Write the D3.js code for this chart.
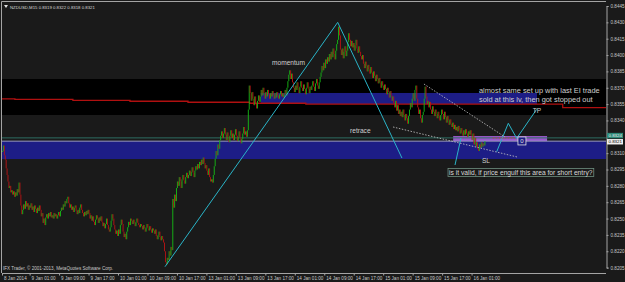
<!DOCTYPE html>
<html>
<head>
<meta charset="utf-8">
<script src="https://cdn.jsdelivr.net/npm/d3@7/dist/d3.min.js"></script>
<style>
  body { margin: 0; background: #1a1a1a; }
  svg { display: block; font-family: "Liberation Sans", Arial, sans-serif; }
</style>
</head>
<body>
<svg id="chart" width="625" height="282"></svg>
<script>
// NZDUSD M15, closes in pips above BASE (price = BASE + p / 10000)
var BASE = 0.8200;
var closes = [
  112, 117, 108,
  104, 96, 90, 84, 78, 80, 74,
  76, 72, 75, 70, 74, 71, 77, 74,
  83, 72,
  62, 54, 58,
  63, 59, 66, 61, 64, 58, 62, 60,
  64, 58, 61, 56, 62, 59, 55, 60, 57, 62, 58,
  52, 55, 46, 50, 44, 51,
  54, 50, 55, 52, 56, 51, 53, 50, 55, 52, 54, 50, 53, 56, 52, 57,
  60, 58, 63, 61, 66, 64, 68, 70,
  64, 60, 63, 58, 61, 56, 60, 62, 57, 54, 58, 55, 60, 63, 58, 55, 52, 56, 53, 57, 54,
  58, 55, 50, 53, 48, 52, 47, 44, 49, 53, 50, 46, 51, 48,
  52, 47, 43, 46, 41, 45, 50, 44, 40, 38, 42,
  48, 54, 50, 44, 40, 36, 39, 34,
  40, 36, 44, 49, 45, 38, 33, 36, 31, 38, 42,
  47, 44, 50, 48, 45, 49, 46, 43, 47, 50, 46, 44, 42, 45,
  43, 40, 44, 41, 38, 42, 45, 41, 39, 43, 40, 37, 41, 39,
  36, 40, 34, 31, 35, 38, 33, 30, 34, 31, 28,
  20, 10, 8,
  14, 12, 20, 16, 24, 21, 68,
  60, 72, 66, 78, 84,
  80, 88, 84, 78, 86, 90, 85, 82, 88, 92, 87,
  90, 94, 89, 93, 97, 92, 88, 94, 98, 95, 100, 96, 102, 99,
  104, 100, 106, 101, 96, 99, 94, 90, 96, 88, 84, 86, 83, 90,
  98, 105, 112, 108, 118, 114, 122, 126,
  130, 124, 128, 133, 127, 122, 129, 125, 120, 126, 131, 124, 128, 122,
  127, 132, 126, 121, 125, 130, 124, 119, 123, 128, 134, 127, 130, 125, 131,
  150, 172, 165,
  158, 166, 160, 154, 162, 156, 151, 158, 163, 157, 162,
  168, 163, 170, 165, 160, 166, 162, 168, 164, 160, 165,
  162, 167, 163, 160, 165, 161, 166, 163, 160, 164, 167, 162, 165, 161, 164, 168, 163, 170, 176,
  182, 186, 178, 183, 175, 170,
  166, 172, 168, 175, 170, 165, 171, 176, 170, 167, 173, 169, 164, 170, 175, 169, 165, 171, 168,
  172, 176, 171, 167, 174, 178, 172, 169, 175, 180,
  184, 190, 186, 193, 188, 196, 192, 198, 194, 201, 196,
  203, 198, 206, 201, 196, 204, 210, 214,
  226, 218, 205,
  200, 206, 197, 203, 208, 199, 204, 212,
  220, 214, 208,
  213, 207, 211, 204, 209, 214, 206, 202, 208, 203, 199,
  196, 200, 192, 188, 194, 190, 185, 191, 187, 183, 189,
  184, 179, 185, 181, 176, 182, 178, 174, 179, 175, 170, 176, 172, 168,
  173, 169, 164, 170, 166, 161, 167, 163, 158, 162, 156,
  152, 158, 149, 154, 146, 150, 144,
  148, 143, 150, 145, 140, 146, 142, 137, 144,
  150, 156, 152, 160, 165, 158, 168, 172, 160, 152,
  146, 150, 142, 138, 145, 148,
  160, 171, 162, 155, 158,
  152, 157, 150, 146, 153, 148, 144, 150, 146, 142, 148, 144, 140, 145,
  150, 146, 141, 148, 143, 138, 144, 140, 136, 141, 137,
  134, 138, 132, 136, 131, 134, 130,
  135, 131, 128, 133, 129, 126, 131, 127, 132, 128, 125, 130, 127, 131,
  126, 122, 128, 118, 124, 116, 120, 114, 112,
  118, 115, 120, 116, 119, 117, 121
];

var xTickBars = [0, 30, 62, 94, 126, 158, 190, 222, 254, 286, 318, 350, 382, 414, 446, 478, 510];
var xTickLabels = ["8 Jan 2014", "9 Jan 01:00", "9 Jan 09:00", "9 Jan 17:00", "10 Jan 01:00",
  "10 Jan 09:00", "10 Jan 17:00", "13 Jan 01:00", "13 Jan 09:00", "13 Jan 17:00",
  "14 Jan 01:00", "14 Jan 09:00", "14 Jan 17:00", "15 Jan 01:00", "15 Jan 09:00",
  "15 Jan 17:00", "16 Jan 01:00"];
var yTicks = [0.8445, 0.8430, 0.8415, 0.8400, 0.8385, 0.8370, 0.8355, 0.8340,
  0.8310, 0.8295, 0.8280, 0.8265, 0.8250, 0.8235, 0.8220, 0.8205];

// stepped red indicator line: start bar / price
var redStepBars = [0, 14, 77, 139, 202, 269, 330, 609, 656];
var redStepPrices = [0.83598, 0.83594, 0.83585, 0.83576, 0.83567, 0.83558, 0.83549, 0.83518];

// rectangles: [bar0, bar1, priceTop, priceBottom]
var bandBlack = [0, 656, 0.83780, 0.83450];
var boxUpperBlue = [281, 581, 0.83652, 0.83551];
var boxLowerBlue = [0, 656, 0.83207, 0.83046];
var boxPurple = [490, 592, 0.83257, 0.83211];

// trend lines: [[bar, price], ...]
var cyanLines = [
  [[177, 0.82058], [364.6, 0.84300], [434.4, 0.83055]],
  [[492, 0.82991], [498.5, 0.83239]],
  [[537.3, 0.83113], [549.9, 0.83374], [559, 0.83236], [580.7, 0.83502]]
];
var dashedLines = [
  [[458.3, 0.83734], [546.3, 0.83248]],
  [[424.7, 0.83340], [559.4, 0.83065]]
];
var redDotted = [[533, 0.83239], [559, 0.83239]];

var notes = [
  { text: "momentum", bar: 293.3, price: 0.83909, size: 6.6 },
  { text: "retrace", bar: 378, price: 0.83285, size: 6.6 },
  { text: "almost same set up with last EI trade", bar: 518, price: 0.83650, size: 7.4 },
  { text: "sold at this lv, then got stopped out", bar: 518, price: 0.83568, size: 7.4 },
  { text: "TP", bar: 576.5, price: 0.83468, size: 6.6 },
  { text: "SL", bar: 521.3, price: 0.83010, size: 6.6 }
];
var question = { text: "is it valid, if price engulf this area for short entry?", bar: 485.5, price: 0.82904 };
var markBox = { bar: 564.7, price: 0.83212 };

var bid = 0.8321, ask = 0.8324;

var svg = d3.select("#chart");
var left = 2, right = 606, top = 2, bottom = 273;

var x = d3.scaleLinear().domain([0, 656]).range([left, right]);
var y = d3.scaleLinear().domain([0.8205, 0.8445]).range([267.6, 6]);
var px = function(p) { return BASE + p / 10000; };

var plot = svg.append("g");

function rect(b, fill) {
  plot.append("rect")
    .attr("x", x(b[0])).attr("y", y(b[2]))
    .attr("width", x(b[1]) - x(b[0]))
    .attr("height", y(b[3]) - y(b[2]))
    .attr("fill", fill);
}
rect(bandBlack, "#000000");
rect(boxLowerBlue, "#1d1d86");
rect(boxUpperBlue, "#1d1d86");
rect(boxPurple, "#9a58cc");

// red stepped line
var redPts = [];
for (var i = 0; i < redStepPrices.length; i++) {
  redPts.push([redStepBars[i], redStepPrices[i]]);
  redPts.push([redStepBars[i + 1], redStepPrices[i]]);
}
plot.append("path")
  .attr("d", d3.line().x(function(d) { return x(d[0]); }).y(function(d) { return y(d[1]); })(redPts))
  .attr("fill", "none").attr("stroke", "#b01010").attr("stroke-width", 1.3);

// ask / bid lines
plot.append("line").attr("x1", left).attr("x2", right)
  .attr("y1", y(ask)).attr("y2", y(ask)).attr("stroke", "#2d6e62").attr("stroke-width", 1);
plot.append("line").attr("x1", left).attr("x2", right)
  .attr("y1", y(bid)).attr("y2", y(bid)).attr("stroke", "#9a9ad0").attr("stroke-width", 1);

// candles
var bw = x(1) - x(0);
plot.append("g").selectAll("rect")
  .data(closes)
  .enter().append("rect")
  .attr("x", function(d, i) { return x(i); })
  .attr("width", bw)
  .attr("y", function(d, i) {
    var o = i > 0 ? closes[i - 1] : d;
    return y(px(Math.max(o, d)));
  })
  .attr("height", function(d, i) {
    var o = i > 0 ? closes[i - 1] : d;
    return Math.max(1, y(px(Math.min(o, d))) - y(px(Math.max(o, d))));
  })
  .attr("fill", function(d, i) {
    var o = i > 0 ? closes[i - 1] : d;
    return d >= o ? "#16b816" : "#b81414";
  });

var line = d3.line().x(function(d) { return x(d[0]); }).y(function(d) { return y(d[1]); });

cyanLines.forEach(function(l) {
  plot.append("path").attr("d", line(l))
    .attr("fill", "none").attr("stroke", "#2ab4c8").attr("stroke-width", 1);
});
dashedLines.forEach(function(l) {
  plot.append("path").attr("d", line(l))
    .attr("fill", "none").attr("stroke", "#c8c8c8").attr("stroke-width", 0.8)
    .attr("stroke-dasharray", "1.5,1.5");
});
plot.append("path").attr("d", line(redDotted))
  .attr("fill", "none").attr("stroke", "#e03030").attr("stroke-width", 0.8)
  .attr("stroke-dasharray", "1.5,1.5");

// small marker box
plot.append("rect")
  .attr("x", x(markBox.bar) - 4).attr("y", y(markBox.price) - 4)
  .attr("width", 8).attr("height", 8)
  .attr("fill", "#1d1d86").attr("stroke", "#e0e0e0").attr("stroke-width", 0.8);
plot.append("text")
  .attr("x", x(markBox.bar)).attr("y", y(markBox.price) + 2)
  .attr("text-anchor", "middle").attr("font-size", 6).attr("fill", "#e0e0e0")
  .text("0");

// notes
plot.selectAll("text.note")
  .data(notes)
  .enter().append("text")
  .attr("class", "note")
  .attr("x", function(d) { return x(d.bar); })
  .attr("y", function(d) { return y(d.price); })
  .attr("font-size", function(d) { return d.size; }).attr("fill", "#cfcfcf")
  .text(function(d) { return d.text; });

var q = plot.append("text")
  .attr("x", x(question.bar)).attr("y", y(question.price))
  .attr("font-size", 6.7).attr("fill", "#d8d8d8")
  .text(question.text);
var qb = q.node().getBBox();
plot.insert("rect", function() { return q.node(); })
  .attr("x", qb.x - 1).attr("y", qb.y)
  .attr("width", qb.width + 2).attr("height", qb.height)
  .attr("fill", "#1a1a1a").attr("stroke", "#6f8f80").attr("stroke-width", 0.8);

// frame
var frame = svg.append("g").attr("stroke", "#a4a4a4").attr("stroke-width", 1);
frame.append("line").attr("x1", 1.5).attr("x2", 1.5).attr("y1", 1.5).attr("y2", bottom);
frame.append("line").attr("x1", 1.5).attr("x2", right).attr("y1", 1.5).attr("y2", 1.5);

// axes
var yAxis = d3.axisRight(y).tickValues(yTicks).tickSize(2).tickPadding(2)
  .tickFormat(d3.format(".4f"));
var gy = svg.append("g").attr("transform", "translate(" + (right + 0.5) + ",0)").call(yAxis);
var xAxis = d3.axisBottom(x).tickValues(xTickBars).tickSize(2).tickPadding(1)
  .tickFormat(function(d, i) { return xTickLabels[i]; });
var gx = svg.append("g").attr("transform", "translate(0," + (bottom + 0.5) + ")").call(xAxis);
gx.selectAll("text").attr("text-anchor", "start").attr("dx", 1.5);
[gx, gy].forEach(function(g) {
  g.select(".domain").attr("stroke", "#a4a4a4");
  g.selectAll(".tick line").attr("stroke", "#a4a4a4");
  g.selectAll("text").attr("fill", "#c8c8c8").attr("font-size", 4.6)
    .attr("font-family", "Liberation Sans, Arial, sans-serif");
});
gx.select(".domain").attr("d", "M" + left + ",0H" + right);

// price labels on the axis (ask tag sits just above the bid tag)
function priceTag(p, yc, fill, color) {
  var g = svg.append("g");
  g.append("rect").attr("x", right + 1).attr("y", yc - 2.7)
    .attr("width", 16).attr("height", 5.4).attr("fill", fill);
  g.append("text").attr("x", right + 2.5).attr("y", yc + 1.6)
    .attr("font-size", 4.4).attr("fill", color).text(d3.format(".4f")(p));
}
priceTag(ask, y(bid) - 5.6, "#2d8a78", "#e8e8e8");
priceTag(bid, y(bid) + 0.6, "#f0f0f0", "#000000");

// header and footer text
svg.append("path").attr("d", "M4,5 L8,5 L6,8 Z").attr("fill", "#e0e0e0");
svg.append("text").attr("x", 10).attr("y", 8.5)
  .attr("font-size", 4.3).attr("fill", "#d8d8d8")
  .text("NZDUSD,M15  0.8319 0.8322 0.8318 0.8321");
svg.append("text").attr("x", 3).attr("y", 269.5)
  .attr("font-size", 4.6).attr("fill", "#c8c8c8")
  .text("IFX Trader, \u00a9 2001-2013, MetaQuotes Software Corp.");
</script>
</body>
</html>
